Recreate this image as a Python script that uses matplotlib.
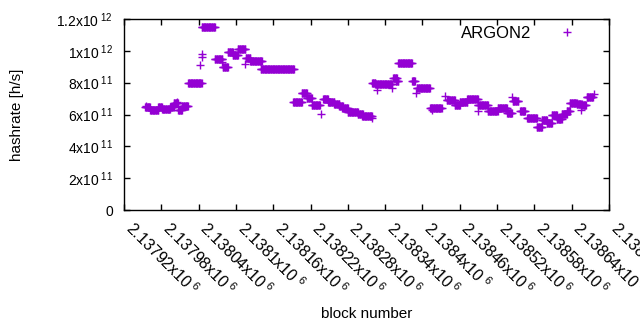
"""
Hashrate per block, ARGON2 (gnuplot style)
"""

import numpy as np
import matplotlib
matplotlib.use('Agg')
import matplotlib.pyplot as plt
from matplotlib.ticker import FixedLocator, FuncFormatter


# Settings
plt.rcParams['font.family'] = ['Liberation Sans', 'DejaVu Sans']
plt.rcParams['mathtext.fontset'] = 'custom'
plt.rcParams['mathtext.rm'] = 'Liberation Sans'
plt.rcParams['mathtext.it'] = 'Liberation Sans'
figsize = (6.4, 3.3)
colour = '#9400d3'


# Constant hashrate stretches (block from, block to, hashrate in 1e11 h/s)
seg_start = [2137954, 2137962, 2137975, 2137981, 2137994, 2138000, 2138007, 2138013,
             2138023, 2138045, 2138066, 2138079, 2138087, 2138095, 2138103, 2138116,
             2138123, 2138140, 2138192, 2138206, 2138214, 2138222, 2138240, 2138248,
             2138258, 2138266, 2138271, 2138280, 2138296, 2138303, 2138319, 2138324,
             2138353, 2138357, 2138361, 2138383, 2138391, 2138412, 2138439, 2138452,
             2138460, 2138472, 2138489, 2138505, 2138521, 2138536, 2138545, 2138557,
             2138568, 2138584, 2138592, 2138600, 2138608, 2138616, 2138624, 2138632,
             2138637, 2138648, 2138656, 2138664]
seg_end = [2137962, 2137975, 2137981, 2137994, 2138000, 2138007, 2138013, 2138023,
           2138045, 2138066, 2138078, 2138087, 2138095, 2138103, 2138115, 2138123,
           2138142, 2138193, 2138206, 2138214, 2138222, 2138235, 2138248, 2138258,
           2138266, 2138272, 2138280, 2138296, 2138304, 2138319, 2138324, 2138351,
           2138359, 2138361, 2138383, 2138388, 2138412, 2138431, 2138452, 2138460,
           2138472, 2138489, 2138505, 2138521, 2138536, 2138544, 2138554, 2138565,
           2138584, 2138592, 2138600, 2138608, 2138616, 2138624, 2138632, 2138637,
           2138648, 2138656, 2138663, 2138674]
seg_rate = [6.45, 6.30, 6.50, 6.35, 6.45, 6.75, 6.30, 6.55,
            8.00, 11.50, 9.47, 9.00, 9.94, 9.74, 10.10, 9.53,
            9.36, 8.84, 6.76, 7.33, 7.02, 6.60, 6.95, 6.76,
            6.64, 6.55, 6.39, 6.17, 6.03, 5.88, 7.96, 7.90,
            8.31, 8.10, 9.25, 8.10, 7.69, 6.43, 6.91, 6.60,
            6.77, 6.97, 6.62, 6.22, 6.39, 6.11, 6.82, 6.22,
            5.76, 5.23, 5.65, 5.45, 5.97, 5.70, 6.01, 6.22,
            6.74, 6.64, 6.60, 7.12]

# Single blocks off their stretch
single_block = [2137955, 2138005, 2138042, 2138045, 2138046, 2138077, 2138115,
                2138237, 2138319, 2138327, 2138351, 2138390, 2138415, 2138436,
                2138489, 2138544, 2138655, 2138676]
single_rate = [6.55, 6.80, 9.10, 9.78, 9.63, 9.30, 9.15,
               6.01, 5.75, 7.54, 7.65, 7.33, 6.30, 7.18,
               6.20, 7.12, 6.30, 7.29]

xticks = np.arange(2137920, 2138701, 60)
yticks = [0, 2e11, 4e11, 6e11, 8e11, 1e12, 1.2e12]


def sci_label(v, pos = None):
    """
    gnuplot style 'mx10^e' label
    """
    if v == 0:
        return '0'
    e = int(np.floor(np.log10(abs(v)) + 1e-9))
    m = v / 10**e
    ms = f'{m:.6f}'.rstrip('0').rstrip('.')
    return ms + r'x10$^{\ ' + str(e) + '}$'


def graph_hashrate():
    """
    Graph of hashrate per block
    """
    blocks = []
    rates = []
    for b0, b1, r in zip(seg_start, seg_end, seg_rate):
        b = np.arange(b0, b1 + 1)
        blocks.append(b)
        rates.append(np.full(len(b), r * 1e11))
    blocks.append(np.array(single_block))
    rates.append(np.array(single_rate) * 1e11)
    blocks = np.concatenate(blocks)
    rates = np.concatenate(rates)

    fig = plt.figure(figsize = figsize, dpi = 100)
    ax = fig.add_axes([124 / 640, 1 - 210 / 330, 485 / 640, 191 / 330])

    ax.plot(blocks, rates, '+', color = colour, markersize = 6,
            markeredgewidth = 1.0, label = 'ARGON2')

    ax.set_xlim(2137920, 2138700)
    ax.set_ylim(0, 1.2e12)
    ax.xaxis.set_major_locator(FixedLocator(xticks))
    ax.yaxis.set_major_locator(FixedLocator(yticks))
    ax.xaxis.set_major_formatter(FuncFormatter(sci_label))
    ax.yaxis.set_major_formatter(FuncFormatter(sci_label))
    ax.tick_params(direction = 'in', length = 4, width = 1, top = True,
                   right = True)
    ax.tick_params(axis = 'y', labelsize = 10, pad = 8)
    ax.tick_params(axis = 'x', labelsize = 11.5, pad = 14)
    for lab in ax.get_xticklabels():
        lab.set_rotation(-45)
        lab.set_ha('left')
        lab.set_va('baseline')
        lab.set_rotation_mode('anchor')
    for s in ax.spines.values():
        s.set_linewidth(1)

    ax.set_ylabel('hashrate [h/s]', fontsize = 11)
    ax.set_xlabel('block number', fontsize = 11)
    ax.yaxis.set_label_coords(-0.206, 0.5)
    ax.xaxis.set_label_coords(0.5, -0.51)

    ax.legend(loc = 'upper right', frameon = False, markerfirst = False,
              fontsize = 12, handlelength = 2.6, handletextpad = 0.8,
              borderaxespad = 0, bbox_to_anchor = (0.971, 0.997))

    plt.savefig('out.png', dpi = 100)
    return


#====================
if __name__ == '__main__':
    graph_hashrate()
